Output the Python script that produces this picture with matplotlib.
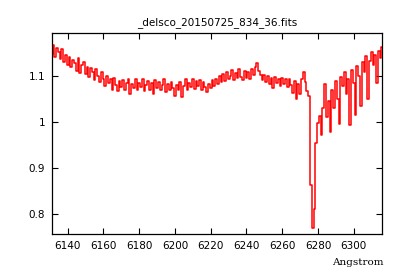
import numpy as np
import matplotlib
matplotlib.use("Agg")
import matplotlib.pyplot as plt

# wavelength grid (Angstrom), 1 A steps
wavelength = np.arange(6131, 6317)

# normalised flux
flux = [
    1.148, 1.166, 1.140, 1.160, 1.152, 1.136, 1.158, 1.130, 1.146, 1.124,  # 6131-6140
    1.140, 1.118, 1.134, 1.128, 1.110, 1.138, 1.106, 1.124, 1.130, 1.104,  # 6141-6150
    1.120, 1.098, 1.116, 1.108, 1.090, 1.114, 1.100, 1.086, 1.108, 1.094,  # 6151-6160
    1.078, 1.100, 1.084, 1.092, 1.070, 1.096, 1.080, 1.066, 1.088, 1.076,  # 6161-6170
    1.090, 1.070, 1.084, 1.094, 1.060, 1.082, 1.074, 1.092, 1.068, 1.084,  # 6171-6180
    1.076, 1.094, 1.066, 1.080, 1.088, 1.070, 1.084, 1.060, 1.090, 1.074,  # 6181-6190
    1.086, 1.068, 1.080, 1.092, 1.064, 1.082, 1.070, 1.086, 1.074, 1.056,  # 6191-6200
    1.080, 1.068, 1.086, 1.054, 1.078, 1.092, 1.070, 1.084, 1.076, 1.092,  # 6201-6210
    1.072, 1.088, 1.078, 1.090, 1.070, 1.086, 1.076, 1.064, 1.082, 1.074,  # 6211-6220
    1.090, 1.078, 1.094, 1.082, 1.100, 1.086, 1.104, 1.088, 1.108, 1.092,  # 6221-6230
    1.100, 1.112, 1.090, 1.106, 1.096, 1.114, 1.098, 1.090, 1.110, 1.096,  # 6231-6240
    1.108, 1.094, 1.114, 1.102, 1.118, 1.128, 1.110, 1.102, 1.090, 1.102,  # 6241-6250
    1.086, 1.100, 1.082, 1.096, 1.074, 1.098, 1.084, 1.094, 1.078, 1.096,  # 6251-6260
    1.082, 1.094, 1.076, 1.092, 1.080, 1.062, 1.088, 1.050, 1.082, 1.060,  # 6261-6270
    1.094, 1.108, 1.086, 1.066, 1.056, 0.862, 0.770, 0.812, 0.955, 0.998,  # 6271-6280
    1.012, 0.972, 1.030, 1.082, 1.010, 1.045, 0.978, 1.070, 1.030, 1.088,  # 6281-6290
    1.050, 0.995, 1.098, 1.078, 1.108, 1.060, 1.092, 0.993, 1.112, 1.084,  # 6291-6300
    1.015, 1.122, 1.100, 1.034, 1.130, 1.108, 1.142, 1.050, 1.132, 1.152,  # 6301-6310
    1.124, 1.146, 1.084, 1.154, 1.138, 1.162,                              # 6311-6316
]

title = "_delsco_20150725_834_36.fits"
xticks = [6140, 6160, 6180, 6200, 6220, 6240, 6260, 6280, 6300]
yticks = [0.8, 0.9, 1.0, 1.1]
ytick_labels = ["0.8", "0.9", "1", "1.1"]

fig = plt.figure(figsize=(4, 2.8), dpi=100)
ax = fig.add_axes([0.13, 0.164, 0.825, 0.718])
ax.plot(wavelength, flux, color="red", linewidth=1.1, drawstyle="steps-mid")

ax.set_xlim(6131.2, 6315.8)
ax.set_ylim(0.7566, 1.1926)
ax.set_xticks(xticks)
ax.set_yticks(yticks)
ax.set_yticklabels(ytick_labels)
ax.tick_params(direction="in", length=4, width=0.8, top=True, right=True,
               labelsize=7.5, pad=5)
for s in ax.spines.values():
    s.set_linewidth(0.9)

ax.set_title(title, fontsize=7.5, pad=6)
fig.text(0.958, 0.045, "Angstrom", ha="right", va="bottom",
         family="DejaVu Serif", fontsize=7.5)

fig.savefig("out.png", dpi=100)
